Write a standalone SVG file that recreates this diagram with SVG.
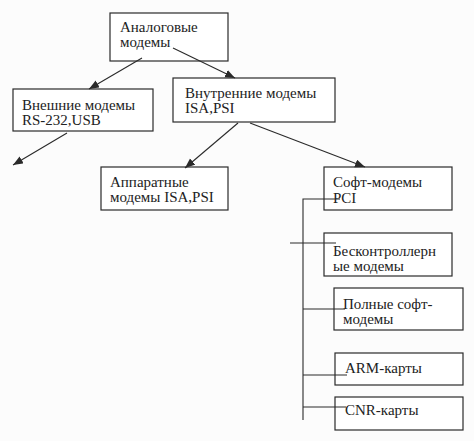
<svg xmlns="http://www.w3.org/2000/svg" width="474" height="441" viewBox="0 0 474 441">
<defs>
<style>
.box{fill:#fff;stroke:#2a2a2a;stroke-width:1.2}
.t{font-family:"Liberation Serif","DejaVu Serif","Times New Roman",serif;font-size:15px;fill:#222}
.c{fill:none;stroke:#2a2a2a;stroke-width:1.1}
</style>
<marker id="ah" markerUnits="userSpaceOnUse" markerWidth="11" markerHeight="9" refX="10" refY="4" orient="auto">
<path d="M0,0 L10,4 L0,8 z" fill="#2a2a2a"/>
</marker>
</defs>
<rect width="474" height="441" fill="#fcfcfc"/>
<g id="n1"><rect class="box" x="110" y="13" width="118" height="48"/><text class="t" x="120" y="32">Аналоговые</text><text class="t" x="120" y="47">модемы</text></g>
<g id="n2"><rect class="box" x="13" y="89" width="140" height="42"/><text class="t" x="22" y="110">Внешние модемы</text><text class="t" x="22" y="125">RS-232,USB</text></g>
<g id="n3"><rect class="box" x="173" y="78" width="162" height="44"/><text class="t" x="185" y="98">Внутренние модемы</text><text class="t" x="185" y="113">ISA,PSI</text></g>
<g id="n4"><rect class="box" x="101" y="167" width="127" height="43"/><text class="t" x="110" y="187">Аппаратные</text><text class="t" x="110" y="202">модемы ISA,PSI</text></g>
<g id="n5"><rect class="box" x="324" y="167" width="128" height="43"/><text class="t" x="333" y="187">Софт-модемы</text><text class="t" x="333" y="203">PCI</text></g>
<g id="n6"><rect class="box" x="324" y="233" width="128" height="43"/><text class="t" x="333" y="256">Бесконтроллерн</text><text class="t" x="333" y="271">ые модемы</text></g>
<g id="n7"><rect class="box" x="334" y="288" width="129" height="42"/><text class="t" x="343" y="309">Полные софт-</text><text class="t" x="343" y="324">модемы</text></g>
<g id="n8"><rect class="box" x="335" y="353" width="128" height="32"/><text class="t" x="345" y="373">ARM-карты</text></g>
<g id="n9"><rect class="box" x="335" y="397" width="128" height="33"/><text class="t" x="345" y="415">CNR-карты</text></g>
<g id="connectors">
<line class="c" x1="142" y1="58" x2="89" y2="89" marker-end="url(#ah)"/>
<line class="c" x1="173" y1="48" x2="235" y2="78" marker-end="url(#ah)"/>
<line class="c" x1="67" y1="133" x2="13" y2="165" marker-end="url(#ah)"/>
<line class="c" x1="238" y1="123" x2="185" y2="168" marker-end="url(#ah)"/>
<line class="c" x1="250" y1="123" x2="365" y2="167" marker-end="url(#ah)"/>
<polyline class="c" points="340,199 303,199 303,420"/>
<line class="c" x1="290" y1="243" x2="336" y2="243"/>
<line class="c" x1="303" y1="309" x2="345" y2="309"/>
<line class="c" x1="303" y1="375" x2="347" y2="375"/>
<line class="c" x1="303" y1="407" x2="346" y2="407"/>
</g>
</svg>
